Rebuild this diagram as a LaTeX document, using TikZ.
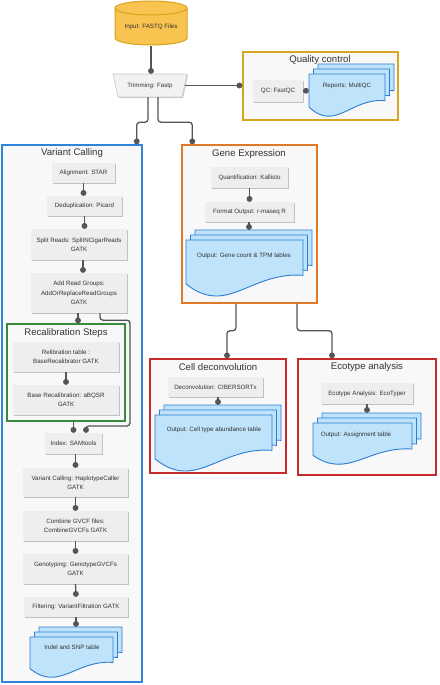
\documentclass[tikz,border=0pt]{standalone}
\usepackage{fontspec}
\setmainfont{Liberation Sans}
\usetikzlibrary{arrows.meta,shadows}
\definecolor{procfill}{HTML}{EEEEEE}
\definecolor{contfill}{HTML}{F8F8F8}
\definecolor{txt}{HTML}{333333}
\definecolor{lin}{HTML}{555555}
\definecolor{docfill}{HTML}{BEE3FA}
\definecolor{docline}{HTML}{2D7DD2}
\definecolor{qcgold}{HTML}{D6A522}
\definecolor{vcblue}{HTML}{2F83D9}
\definecolor{recgreen}{HTML}{3A8A3D}
\definecolor{georange}{HTML}{E07A28}
\definecolor{cdred}{HTML}{C72A2A}
\definecolor{cylfill}{HTML}{F8C44F}
\definecolor{cylline}{HTML}{D9A21E}
\definecolor{trapfill}{HTML}{F2F2F2}
\definecolor{trapline}{HTML}{C9C9C9}
\newcommand\bx[7]{\node[#6, minimum width={#4-#2}, minimum height={#5-#3}] (#1) at ({(#2+#4)/2},{(#3+#5)/2}) {#7};}
\newcommand\docshape[4]{\draw[docst] ({#1},{#2}) -- ({#1+#3},{#2}) -- ({#1+#3},{#2+0.62*#4}) .. controls ({#1+0.55*#3},{#2+0.55*#4}) and ({#1+0.35*#3},{#2+1.35*#4}) .. ({#1},{#2+0.77*#4}) -- cycle;}
\newcommand\multidoc[4]{\docshape{#1+9}{#2-10}{#3}{#4}\docshape{#1+4.5}{#2-5}{#3}{#4}\docshape{#1}{#2}{#3}{#4}}
\tikzset{
  smalltext/.style={font=\fontsize{6.2}{9.3}\selectfont, text=txt, align=center},
  proc/.style={smalltext, fill=procfill, draw=none, inner sep=1pt,
    drop shadow={shadow xshift=1pt, shadow yshift=-1.2pt, opacity=0.22, fill=black}},
  cont/.style={fill=contfill, line width=1.4pt,
    drop shadow={shadow xshift=1pt, shadow yshift=-1pt, opacity=0.12, fill=black}},
  ttl/.style={font=\fontsize{9.6}{11}\selectfont, text=txt},
  area/.style={inner sep=0pt, draw=none},
  doctext/.style={smalltext, inner sep=0pt},
  docst/.style={draw=docline, fill=docfill, line width=0.9pt},
  conn/.style={draw=lin, line width=1.3pt, rounded corners=3pt, -{Circle[length=5.8pt,width=5.8pt]}},
}
\begin{document}
\begin{tikzpicture}[x=1pt,y=-1pt]
\useasboundingbox[fill=white] (0,0) rectangle (439,685);

% ---------- input cylinder ----------
\filldraw[fill=cylfill, draw=cylline, line width=1pt] (115,8) -- (115,38)
  arc[start angle=180, end angle=360, x radius=36pt, y radius=7pt] -- (187,8)
  arc[start angle=0, end angle=180, x radius=36pt, y radius=7pt] -- cycle;
\draw[draw=cylline, line width=1pt] (115,8) arc[start angle=180, end angle=360, x radius=36pt, y radius=7pt];
\bx{input}{115}{1}{187}{46}{area}{}
\node[smalltext] (inputT) at (151,27) {Input: FASTQ Files};

% ---------- trimming ----------
\filldraw[fill=trapfill, draw=trapline, line width=0.6pt,
  drop shadow={shadow xshift=1pt, shadow yshift=-1.2pt, opacity=0.2, fill=black}]
  (113,74) -- (187,74) -- (182,97) -- (118,97) -- cycle;
\bx{trim}{113}{74}{187}{97}{area, smalltext}{Trimming: Fastp}

% ---------- containers ----------
\bx{qc}{243}{52}{398}{120}{cont, draw=qcgold}{}
\bx{vc}{2}{145}{142}{682}{cont, draw=vcblue}{}
\bx{recal}{7}{324}{125}{421}{cont, draw=recgreen}{}
\bx{ge}{182}{145}{317}{303}{cont, draw=georange}{}
\bx{cd}{150}{359}{286}{473}{cont, draw=cdred}{}
\bx{ea}{298}{359}{436}{475}{cont, draw=cdred}{}

\node[ttl] (qcT) at (320,60) {Quality control};
\node[ttl] (vcT) at (72,153) {Variant Calling};
\node[ttl] (recalT) at (66,333) {Recalibration Steps};
\node[ttl] (geT) at (249,154) {Gene Expression};
\node[ttl] (cdT) at (218,367) {Cell deconvolution};
\node[ttl] (eaT) at (367,367) {Ecotype analysis};

% ---------- quality control ----------
\bx{fastqc}{253}{80}{303}{102}{proc}{QC: FastQC}
\multidoc{309}{74}{76}{43}
\bx{repdoc}{309}{64}{394}{117}{area}{}
\node[doctext] (repT) at (347,86) {Reports: MultiQC};

% ---------- variant calling ----------
\bx{align}{52}{163}{115}{183}{proc}{Alignment: STAR}
\bx{dedup}{47}{196}{122}{216}{proc}{Deduplication: Picard}
\bx{split}{31}{229}{127}{260}{proc}{Split Reads: SplitNCigarReads\\GATK}
\bx{addrg}{31}{273}{127}{313}{proc}{Add Read Groups:\\AddOrReplaceReadGroups\\GATK}
\bx{reltab}{13}{342}{119}{372}{proc}{Relibration table :\\BaseRecalibrator GATK}
\bx{baserec}{13}{385}{119}{415}{proc}{Base Recalibration: aBQSR\\GATK}
\bx{index}{45}{433}{102}{454}{proc}{Index: SAMtools}
\bx{hc}{23}{468}{128}{497}{proc}{Variant Calling: HaplotypeCaller\\GATK}
\bx{combine}{23}{511}{128}{541}{proc}{Combine GVCF files:\\CombineGVCFs GATK}
\bx{geno}{23}{554}{128}{584}{proc}{Genotyping: GenotypeGVCFs\\GATK}
\bx{filt}{24}{597}{128}{617}{proc}{Filtering: VariantFiltration GATK}
\multidoc{30}{637}{83}{41}
\bx{indeldoc}{30}{627}{122}{678}{area}{}
\node[doctext] (indelT) at (72,647) {Indel and SNP table};

% ---------- gene expression ----------
\bx{kallisto}{211}{167}{288}{188}{proc}{Quantification: Kallisto}
\bx{format}{205}{202}{294}{222}{proc}{Format Output: r-maseq R}
\multidoc{186}{240}{117}{57}
\bx{gedoc}{186}{230}{312}{297}{area}{}
\node[doctext] (geOutT) at (244,256) {Output: Gene count \& TPM tables};

% ---------- cell deconvolution ----------
\bx{cibersort}{168}{377}{263}{397}{proc}{Deconvolution: CIBERSORTx}
\multidoc{155}{415}{117}{57}
\bx{cddoc}{155}{405}{281}{472}{area}{}
\node[doctext] (cdOutT) at (214,430) {Output: Cell type abundance table};

% ---------- ecotype ----------
\bx{ecotyper}{321}{383}{413}{404}{proc}{Ecotype Analysis: EcoTyper}
\multidoc{313}{423}{99}{42}
\bx{eadoc}{313}{413}{421}{465}{area}{}
\node[doctext] (eaOutT) at (356,435) {Output: Assignment table};

% ---------- connectors ----------
\draw[conn] (input.south) -- (input.south |- trim.north);
\draw[conn] ([xshift=-2.5pt]trim.east) -- (trim.east -| qc.west);
\draw[conn] ([xshift=-2pt]trim.south) -- ++(0,25) -| ([xshift=-6pt]vc.north east);
\draw[conn] ([xshift=8pt]trim.south) -- ++(0,25) -| ([xshift=11pt]ge.north west);
\draw[conn] (fastqc.east) -- (repdoc.west);

\draw[conn] (align.south) -- (align.south |- dedup.north);
\draw[conn] (dedup.south) -- (dedup.south |- split.north);
\draw[conn] ([xshift=4pt]split.south) -- ([xshift=4pt]addrg.north);
\draw[conn] ([xshift=-1pt]addrg.south) -- ([xshift=-1pt]addrg.south |- recal.north);
\coordinate (byp) at (130,426);
\draw[conn] ([xshift=21pt]addrg.south) -- ++(0,7) -| (byp) -| ([xshift=12.5pt]index.north);
\draw[conn] (reltab.south) -- (baserec.north);
\draw[conn] (index.north |- recal.south) -- (index.north);
\draw[conn] (hc.north |- index.south) -- (hc.north);
\draw[conn] (hc.south) -- (combine.north);
\draw[conn] (combine.south) -- (geno.north);
\draw[conn] (geno.south) -- (filt.north);
\draw[conn] (indeldoc.north |- filt.south) -- (indeldoc.north);

\draw[conn] (kallisto.south) -- (kallisto.south |- format.north);
\draw[conn] (gedoc.north |- format.south) -- (gedoc.north);
\draw[conn] ([xshift=-13.5pt]ge.south) -- ++(0,27) -| ([xshift=9pt]cd.north);
\draw[conn] ([xshift=47.5pt]ge.south) -- ++(0,27) -| ([xshift=-35pt]ea.north);

\draw[conn] (cddoc.north |- cibersort.south) -- (cddoc.north);
\draw[conn] (eadoc.north |- ecotyper.south) -- (eadoc.north);
\end{tikzpicture}
\end{document}
